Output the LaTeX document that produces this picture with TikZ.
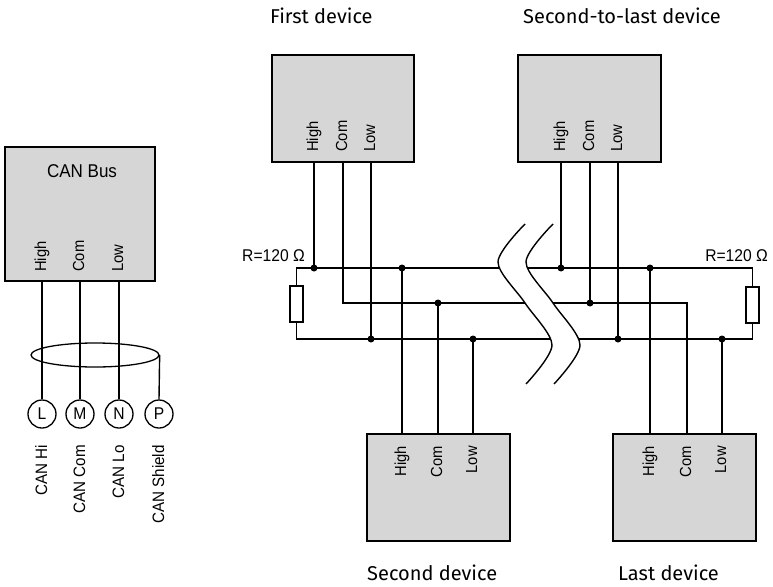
\documentclass[tikz,border=0pt]{standalone}
\usepackage{fontspec}
\setmainfont{Liberation Sans}
\newfontfamily\hv[FakeStretch=0.92]{Liberation Sans}
\newfontfamily\fira{Fira Sans}
\usetikzlibrary{shapes.geometric}
\definecolor{boxgray}{RGB}{214,214,214}
\tikzset{
  devbox/.style={draw, fill=boxgray, line width=1.6pt, inner sep=0pt, rectangle},
  pinlbl/.style={rotate=90, inner sep=0pt, font=\hv\fontsize{16}{16}\selectfont, text height=11.4pt, text depth=3.4pt},
  wire/.style={line width=1.4pt},
  jdot/.style={circle, fill=black, inner sep=0pt, minimum size=7pt},
  term/.style={circle, draw, line width=1.3pt, minimum size=28pt, inner sep=0pt, font=\hv\fontsize{17}{17}\selectfont},
  resbox/.style={draw, fill=white, line width=1.3pt, minimum width=13pt, minimum height=36pt, inner sep=0pt},
  devtitle/.style={font=\fira\fontsize{20}{20}\selectfont, anchor=base west, inner sep=0pt},
  rlbl/.style={font=\hv\fontsize{17}{17}\selectfont, inner sep=0pt},
  canlbl/.style={rotate=90, anchor=east, inner sep=0pt, font=\hv\fontsize{16.5}{16.5}\selectfont, text height=11.8pt, text depth=3.5pt}
}
\begin{document}
\begin{tikzpicture}[x=1pt, y=-1pt]
\useasboundingbox (0,0) rectangle (773,586);

% ---------- CAN bus side ----------
\node[devbox, minimum width=150pt, minimum height=134pt] (can) at (80,214) {};
\node[rlbl, font=\hv\fontsize{18.5}{18.5}\selectfont] (cantitle) at (82,171) {CAN Bus};
\coordinate (cH) at (42,281);
\coordinate (cC) at (80,281);
\coordinate (cLw) at (119,281);
\node[pinlbl, anchor=west] (cHl) at (42,272) {High};
\node[pinlbl, anchor=west] (cCl) at (80,272) {Com};
\node[pinlbl, anchor=west] (cLl) at (119,272) {Low};

\node[term] (tL) at (42,414) {L};
\node[term] (tM) at (80,414) {M};
\node[term] (tN) at (119,414) {N};
\node[term] (tP) at (159,414) {P};

\draw[wire] (cH) -- (tL.north);
\draw[wire] (cC) -- (tM.north);
\draw[wire] (cLw) -- (tN.north);
\node[ellipse, draw, line width=1.3pt, minimum width=128pt, minimum height=24pt, inner sep=0pt] (shield) at (95,355) {};
\draw[wire] (shield.east) -- (tP.north);

\node[canlbl] (lL) at (43,445) {CAN Hi};
\node[canlbl] (lM) at (81,445) {CAN Com};
\node[canlbl] (lN) at (120,445) {CAN Lo};
\node[canlbl] (lP) at (160,445) {CAN Shield};

% ---------- devices ----------
\node[devbox, minimum width=142pt, minimum height=107pt] (first) at (343,108.5) {};
\node[devbox, minimum width=143pt, minimum height=107pt] (stl) at (589.5,108.5) {};
\node[devbox, minimum width=143pt, minimum height=107pt] (second) at (438.5,487.5) {};
\node[devbox, minimum width=143pt, minimum height=107pt] (last) at (684.5,487.5) {};

\node[devtitle] (t1) at (270,24) {First device};
\node[devtitle] (t2) at (523,24) {Second-to-last device};
\node[devtitle] (t3) at (367,580) {Second device};
\node[devtitle] (t4) at (618,580) {Last device};

% pin coordinates
\coordinate (fH) at (314,162); \coordinate (fC) at (343,162); \coordinate (fL) at (371,162);
\coordinate (sH) at (561,162); \coordinate (sC) at (590,162); \coordinate (sL) at (618,162);
\coordinate (dH) at (402,434); \coordinate (dC) at (438,434); \coordinate (dL) at (473,434);
\coordinate (eH) at (650,434); \coordinate (eC) at (687,434); \coordinate (eL) at (722,434);

\node[pinlbl, anchor=west] (fHl) at (314,152) {High};
\node[pinlbl, anchor=west] (fCl) at (343,152) {Com};
\node[pinlbl, anchor=west] (fLl) at (371,152) {Low};
\node[pinlbl, anchor=west] (sHl) at (561,152) {High};
\node[pinlbl, anchor=west] (sCl) at (590,152) {Com};
\node[pinlbl, anchor=west] (sLl) at (618,152) {Low};
\node[pinlbl, anchor=east] (dHl) at (402,446) {High};
\node[pinlbl, anchor=east] (dCl) at (438,446) {Com};
\node[pinlbl, anchor=east] (dLl) at (473,446) {Low};
\node[pinlbl, anchor=east] (eHl) at (650,446) {High};
\node[pinlbl, anchor=east] (eCl) at (687,446) {Com};
\node[pinlbl, anchor=east] (eLl) at (722,446) {Low};

% resistors
\node[resbox] (rL) at (296.5,304) {};
\node[resbox] (rR) at (752.5,305) {};
\node[rlbl, anchor=east] (rLl) at (305,256) {R=120 Ω};
\node[rlbl, anchor=east] (rRl) at (768,256) {R=120 Ω};

% bus corners
\coordinate (hl) at (296.5,268); \coordinate (hr) at (752.5,268);
\coordinate (ll) at (296.5,339); \coordinate (lr) at (752.5,339);
\coordinate (cl) at (343,303); \coordinate (cr) at (687,303);

% buses
\draw[wire] (rL.north) -- (hl) -- (hr) -- (rR.north);
\draw[wire] (rL.south) -- (ll) -- (lr) -- (rR.south);
\draw[wire] (fC) -- (cl) -- (cr) -- (eC);

% break symbol
\fill[white] plot[smooth] coordinates {(525,224) (498,262) (525,303) (552,345) (526,384)}
  -- plot[smooth] coordinates {(554,384) (580,345) (553,303) (526,262) (553,224)} -- cycle;
\draw[wire] plot[smooth] coordinates {(525,224) (498,262) (525,303) (552,345) (526,384)};
\draw[wire] plot[smooth] coordinates {(553,224) (526,262) (553,303) (580,345) (554,384)};

% junctions
\node[jdot] (j1) at (314,268) {};
\node[jdot] (j2) at (402,268) {};
\node[jdot] (j3) at (561,268) {};
\node[jdot] (j4) at (650,268) {};
\node[jdot] (j5) at (438,303) {};
\node[jdot] (j6) at (590,303) {};
\node[jdot] (j7) at (371,339) {};
\node[jdot] (j8) at (473,339) {};
\node[jdot] (j9) at (618,339) {};
\node[jdot] (j10) at (722,339) {};

% drops
\draw[wire] (fH) -- (j1.center);
\draw[wire] (fL) -- (j7.center);
\draw[wire] (sH) -- (j3.center);
\draw[wire] (sC) -- (j6.center);
\draw[wire] (sL) -- (j9.center);
\draw[wire] (j2.center) -- (dH);
\draw[wire] (j5.center) -- (dC);
\draw[wire] (j8.center) -- (dL);
\draw[wire] (j4.center) -- (eH);
\draw[wire] (j10.center) -- (eL);
\end{tikzpicture}
\end{document}
